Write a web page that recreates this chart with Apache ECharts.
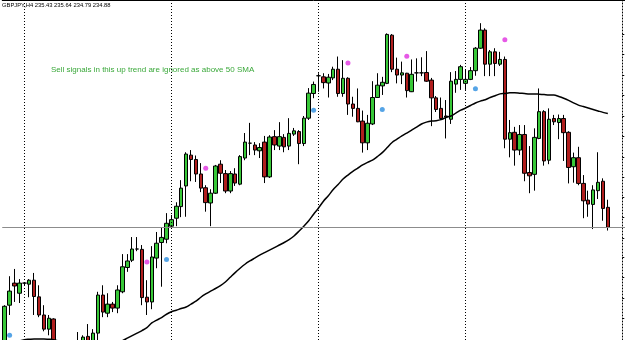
<!DOCTYPE html>
<html><head><meta charset="utf-8">
<script src="https://cdn.jsdelivr.net/npm/echarts@6/dist/echarts.min.js"></script>
<style>html,body{margin:0;padding:0;background:#fff;}#c{width:625px;height:340px;}</style>
</head><body><div id="c"></div>
<script>
const symbolName = 'GBPJPY,H4';
const note = 'Sell signals in this up trend are ignored as above 50 SMA';

const open = [
231.21,232.73,233.34,233.06,233.34,233.31,233.42,232.96,232.46,232.07,
232.35,231.49,231.21,231.08,231.27,231.49,231.63,231.87,231.63,231.96,
233.01,232.51,232.76,232.65,233.10,233.77,233.97,234.28,234.27,232.95,
232.82,234.03,234.46,234.55,234.91,235.13,235.45,236.02,236.87,236.75,
236.35,235.97,235.55,235.82,236.62,236.36,235.88,236.35,236.07,236.79,
237.20,237.15,236.99,237.23,236.27,237.38,237.12,237.36,237.12,237.45,
237.52,237.19,237.89,238.57,239.06,239.03,238.86,239.00,239.24,238.57,
238.99,238.28,238.16,237.81,237.21,237.73,238.46,238.78,238.85,240.18,
239.24,239.08,239.13,238.62,239.14,239.14,239.15,238.94,238.45,238.16,
237.95,237.86,238.83,238.96,238.85,238.96,239.20,239.82,240.32,239.38,
239.72,239.38,239.51,237.31,237.50,237.01,237.44,236.39,236.34,237.33,
238.07,236.73,237.88,237.77,237.88,237.50,236.55,236.80,236.09,235.63,
235.51,235.89,236.15,235.43];
const close = [
232.70,233.12,233.26,233.34,233.34,233.42,232.97,232.46,232.07,232.37,
231.49,231.21,231.08,231.27,231.49,231.63,231.85,231.63,231.96,233.01,
232.54,232.76,232.65,233.15,233.79,233.95,234.28,234.28,232.94,232.82,
234.06,234.44,234.60,234.99,235.09,235.46,235.96,236.90,236.75,236.35,
235.96,235.56,235.82,236.57,236.37,235.88,236.36,236.10,236.83,237.23,
237.20,237.01,237.08,236.27,237.37,237.15,237.38,237.10,237.47,237.54,
237.19,237.89,238.58,238.82,239.06,238.87,239.02,239.24,238.57,238.99,
238.28,238.16,237.79,237.21,237.75,238.46,238.80,238.88,240.20,239.24,
239.08,239.14,238.65,239.10,239.14,239.14,238.91,238.45,238.13,237.88,
237.92,238.91,238.96,239.31,238.96,239.20,239.82,240.32,239.38,239.72,
239.40,239.51,237.31,237.49,237.01,237.44,236.37,236.30,237.36,238.07,
236.71,237.86,237.79,237.88,237.49,236.53,236.80,236.09,235.61,235.52,
235.91,236.12,235.40,234.88];
const low = [
231.08,232.46,232.82,232.79,233.28,232.95,232.46,232.40,232.01,231.90,
231.21,230.94,230.80,230.72,230.99,231.32,231.49,231.43,231.49,231.71,
232.40,232.40,232.54,232.51,233.06,233.65,233.92,234.22,232.73,232.46,
232.62,233.75,233.24,234.44,234.88,234.91,235.16,235.17,236.15,236.13,
235.85,235.31,234.91,235.80,236.10,235.82,235.82,236.02,236.04,236.73,
236.87,236.87,236.79,236.10,236.24,237.01,237.01,236.95,237.01,237.40,
236.62,237.12,237.84,238.44,238.62,238.71,238.46,238.94,238.48,238.48,
237.98,237.93,237.78,236.94,237.01,237.70,238.45,238.53,238.83,239.16,
238.85,238.83,238.46,238.61,238.90,239.05,238.89,237.67,238.06,237.84,
237.33,237.73,238.59,238.67,238.67,238.94,239.06,239.80,239.05,239.05,
239.05,239.33,237.06,236.81,236.58,236.87,236.15,235.82,235.89,237.31,
236.58,236.62,237.70,237.31,236.71,236.09,236.11,236.04,235.13,235.17,
234.83,235.66,235.06,234.79];
const high = [
232.73,233.53,233.73,233.45,233.37,233.45,233.62,233.28,232.73,232.46,
232.37,231.63,231.43,231.35,231.63,231.99,231.90,232.21,232.07,233.10,
233.28,233.06,232.82,233.28,234.14,234.14,234.61,234.61,234.39,233.42,
234.36,234.75,234.86,235.27,235.22,235.57,236.18,236.95,237.01,236.86,
236.65,236.04,235.93,236.60,236.73,236.46,236.43,236.51,236.87,237.48,
237.76,237.23,237.20,237.40,237.42,237.56,237.78,237.45,237.89,237.62,
237.56,237.95,238.72,238.90,239.13,239.13,239.11,239.31,239.59,239.49,
239.02,238.48,238.71,238.10,237.98,238.91,239.13,239.03,240.23,240.21,
239.56,239.45,239.14,239.51,239.54,239.57,239.74,239.00,238.50,238.46,
238.39,239.16,239.19,239.36,239.22,239.30,239.85,240.51,240.37,239.77,
239.82,239.72,239.59,237.84,237.65,237.70,237.70,237.12,237.61,238.71,
238.11,238.16,237.98,237.99,237.98,237.53,236.94,237.10,236.32,235.89,
236.04,236.95,236.23,235.64];
const sma50 = [
231.60,231.63,231.68,231.74,231.78,231.79,231.80,231.80,231.80,231.79,
231.78,231.74,231.68,231.63,231.57,231.55,231.52,231.52,231.52,231.55,
231.57,231.61,231.66,231.71,231.75,231.82,231.89,231.96,232.03,232.11,
232.24,232.32,232.39,232.48,232.55,232.59,232.64,232.68,232.76,232.84,
232.95,233.04,233.12,233.19,233.27,233.37,233.50,233.63,233.75,233.86,
233.95,234.03,234.11,234.18,234.25,234.32,234.39,234.46,234.54,234.64,
234.77,234.91,235.06,235.24,235.41,235.60,235.75,235.92,236.06,236.21,
236.32,236.42,236.51,236.60,236.67,236.73,236.83,236.94,237.08,237.22,
237.31,237.40,237.48,237.56,237.64,237.73,237.78,237.81,237.82,237.85,
237.91,237.95,238.03,238.11,238.17,238.24,238.31,238.36,238.40,238.46,
238.51,238.56,238.57,238.59,238.59,238.58,238.57,238.56,238.56,238.55,
238.54,238.53,238.53,238.49,238.44,238.38,238.31,238.25,238.21,238.17,
238.13,238.09,238.05,238.02];
const sellSignals = [[29,233.92],[41,236.51],[70,239.41],[82,239.60],[102,240.05]];
const buySignals = [[1,231.90],[33,233.99],[63,238.11],[77,238.13],[96,238.70]];
const weekStarts = [4,34,64,94];
const priceTicks = [240.21,239.65,239.08,238.51,237.94,237.38,236.82,236.27,235.72,235.15,234.59,234.04,233.49,232.93,232.38];
const priceMin = 231.77, priceMax = 241.15;
const emptyBars = ['e1','e2','e3'];

const barLabels = open.map((_, i) => 'b' + i).concat(emptyBars);
const ohlc = open.map((o, i) => [o, close[i], low[i], high[i]]);
const last = open.length - 1;
const header = symbolName + ' ' + [open[last], high[last], low[last], close[last]].map(v => v.toFixed(2)).join(' ');

const chart = echarts.init(document.getElementById('c'), null, {renderer: 'canvas'});
chart.setOption({
  animation: false,
  backgroundColor: '#ffffff',
  grid: {left: 2.24, right: -1.72, top: 0, bottom: 0},
  xAxis: {
    type: 'category', data: barLabels, boundaryGap: true, position: 'top',
    axisLine: {show: true, lineStyle: {color: '#000', width: 1}},
    axisTick: {show: false}, axisLabel: {show: false}, splitLine: {show: false}
  },
  yAxis: [
    {type: 'value', min: priceMin, max: priceMax, show: false, splitLine: {show: false}},
    {type: 'value', min: priceMin, max: priceMax, position: 'right', offset: -2.72,
     axisLine: {show: true, lineStyle: {color: '#000', type: [1, 2]}},
     axisTick: {show: true, inside: false, length: 2, customValues: priceTicks, lineStyle: {color: '#000'}},
     axisLabel: {show: false}, splitLine: {show: false}}
  ],
  series: [
    {
      type: 'candlestick', data: ohlc, barWidth: 4,
      itemStyle: {color: '#38c838', color0: '#b01e1e', borderColor: '#000', borderColor0: '#000', borderColorDoji: '#000', borderWidth: 1},
      markLine: {
        silent: true, symbol: ['none', 'none'], label: {show: false}, animation: false,
        data: weekStarts.map(i => ({xAxis: barLabels[i], lineStyle: {type: [1, 2], color: '#000', width: 1}}))
          .concat([{yAxis: close[last], lineStyle: {type: 'solid', color: '#8c8c8c', width: 1}}])
      }
    },
    {type: 'line', data: sma50, symbol: 'none', smooth: 0.3, lineStyle: {color: '#000', width: 1.5}, z: 3},
    {type: 'scatter', data: sellSignals, symbolSize: 5, itemStyle: {color: '#e02fe0'}, z: 4},
    {type: 'scatter', data: buySignals, symbolSize: 5, itemStyle: {color: '#2a8de0'}, z: 4}
  ],
  graphic: [
    {type: 'text', left: 2, top: 2, style: {text: header, fill: '#000', font: '5.8px "Liberation Sans", Arial, sans-serif'}},
    {type: 'text', left: 51, top: 66, style: {text: note, fill: '#3aa83a', font: '8px "Liberation Sans", Arial, sans-serif'}}
  ]
});
</script>
</body></html>
